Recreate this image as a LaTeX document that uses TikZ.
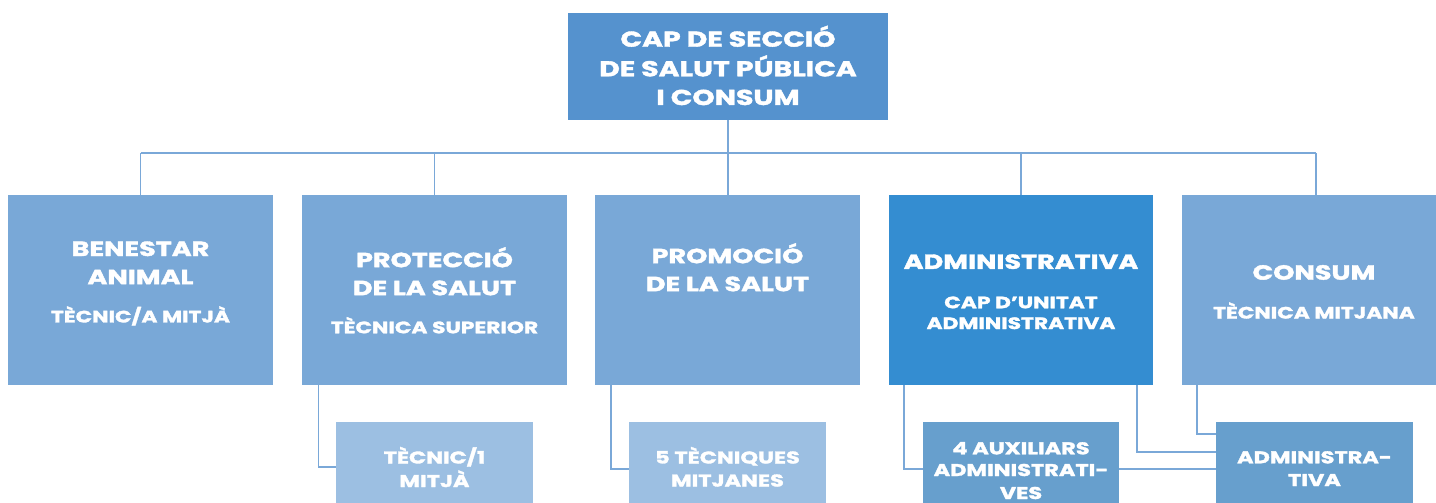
\documentclass[tikz,border=0pt]{standalone}
\usepackage{fontspec}
\setmainfont{Poppins}[BoldFeatures={FakeStretch=1.32, FakeBold=1.8}]
\usetikzlibrary{backgrounds,calc}
\definecolor{topc}{HTML}{5592CE}
\definecolor{midc}{HTML}{79A8D7}
\definecolor{admc}{HTML}{348DD1}
\definecolor{lowc}{HTML}{9CBFE2}
\definecolor{lowadm}{HTML}{679FCD}
\definecolor{linec}{HTML}{7AA8D8}
\tikzset{
  box/.style={fill=#1, draw=none, inner sep=0pt, outer sep=0pt, anchor=north west},
  toptxt/.style={text=white, inner sep=0pt, text height=15pt, text depth=0pt, font=\fontsize{21.5}{21.5}\selectfont\bfseries},
  ttltxt/.style={text=white, inner sep=0pt, text height=14.4pt, text depth=0pt, font=\fontsize{20.5}{20.5}\selectfont\bfseries},
  subtxt/.style={text=white, inner sep=0pt, text height=11.5pt, text depth=0pt, font=\fontsize{16.5}{16.5}\selectfont\bfseries},
  lowtxt/.style={text=white, inner sep=0pt, text height=12pt, text depth=0pt, font=\fontsize{17}{17}\selectfont\bfseries},
  conn/.style={draw=linec, line width=1.5pt},
}
\begin{document}
\begin{tikzpicture}[x=1pt,y=-1pt]
\clip (0,0) rectangle (1436,503);
% boxes
\node[box=topc, minimum width=320pt, minimum height=107pt] (top) at (568,13) {};
\node[box=midc, minimum width=265pt, minimum height=190pt] (b1) at (8,195) {};
\node[box=midc, minimum width=265pt, minimum height=190pt] (b2) at (302,195) {};
\node[box=midc, minimum width=265pt, minimum height=190pt] (b3) at (595,195) {};
\node[box=admc, minimum width=264pt, minimum height=190pt] (b4) at (889,195) {};
\node[box=midc, minimum width=268pt, minimum height=190pt] (b5) at (1182,195) {};
\node[box=lowc, minimum width=197pt, minimum height=90pt] (c1) at (336,422) {};
\node[box=lowc, minimum width=197pt, minimum height=90pt] (c2) at (629,422) {};
\node[box=lowadm, minimum width=196pt, minimum height=90pt] (c3) at (923,422) {};
\node[box=lowadm, minimum width=197pt, minimum height=90pt] (c4) at (1216,422) {};
% connectors
\begin{scope}[on background layer]
\coordinate (busL) at (140.5,153);
\coordinate (busR) at (1316,153);
\draw[conn] (busL) -- (busR);
\draw[conn] (top.south) -- (top.south |- b3.north);
\draw[conn] (b1.north) -- (b1.north |- busL);
\draw[conn] (b2.north) -- (b2.north |- busL);
\draw[conn] (b4.north) -- (b4.north |- busL);
\draw[conn] (b5.north) -- (b5.north |- busL);
\draw[conn] ([xshift=16.5pt]b2.south west) |- (c1.west);
\draw[conn] ([xshift=16pt]b3.south west) |- ([yshift=-2pt]c2.west);
\draw[conn] ([xshift=15pt]b4.south west) |- ([yshift=-2pt]c4.west);
\draw[conn] ([xshift=-16pt]b4.south east) |- ([yshift=15pt]c4.west);
\draw[conn] ([xshift=15pt]b5.south west) |- ([yshift=33pt]c4.west);
\end{scope}
% texts
\node[toptxt] (t1) at (728,39.2) {CAP DE SECCIÓ};
\node[toptxt] (t2) at (728,68.8) {DE SALUT PÚBLICA};
\node[toptxt] (t3) at (728,97.5) {I CONSUM};
\node[ttltxt] (b1a) at (140.5,248.8) {BENESTAR};
\node[ttltxt] (b1b) at (140.5,277) {ANIMAL};
\node[subtxt] (b1c) at (140.5,316.7) {TÈCNIC/A MITJÀ};
\node[ttltxt] (b2a) at (434.5,260) {PROTECCIÓ};
\node[ttltxt] (b2b) at (434.5,288) {DE LA SALUT};
\node[subtxt] (b2c) at (434.5,327.5) {TÈCNICA SUPERIOR};
\node[ttltxt] (b3a) at (727.5,256) {PROMOCIÓ};
\node[ttltxt] (b3b) at (727.5,284) {DE LA SALUT};
\node[ttltxt] (b4a) at (1021,261.7) {ADMINISTRATIVA};
\node[subtxt] (b4b) at (1021,302.5) {CAP D’UNITAT};
\node[subtxt] (b4c) at (1021,323.3) {ADMINISTRATIVA};
\node[ttltxt] (b5a) at (1314,272.5) {CONSUM};
\node[subtxt] (b5b) at (1314,312.8) {TÈCNICA MITJANA};
\node[lowtxt] (c1a) at (434.5,457.5) {TÈCNIC/1};
\node[lowtxt] (c1b) at (434.5,481) {MITJÀ};
\node[lowtxt] (c2a) at (727.5,457.5) {5 TÈCNIQUES};
\node[lowtxt] (c2b) at (727.5,480.5) {MITJANES};
\node[lowtxt] (c3a) at (1021,448.3) {4 AUXILIARS};
\node[lowtxt] (c3b) at (1021,470) {ADMINISTRATI-};
\node[lowtxt] (c3c) at (1021,493) {VES};
\node[lowtxt] (c4a) at (1314.5,457.3) {ADMINISTRA-};
\node[lowtxt] (c4b) at (1314.5,480) {TIVA};
\end{tikzpicture}
\end{document}
